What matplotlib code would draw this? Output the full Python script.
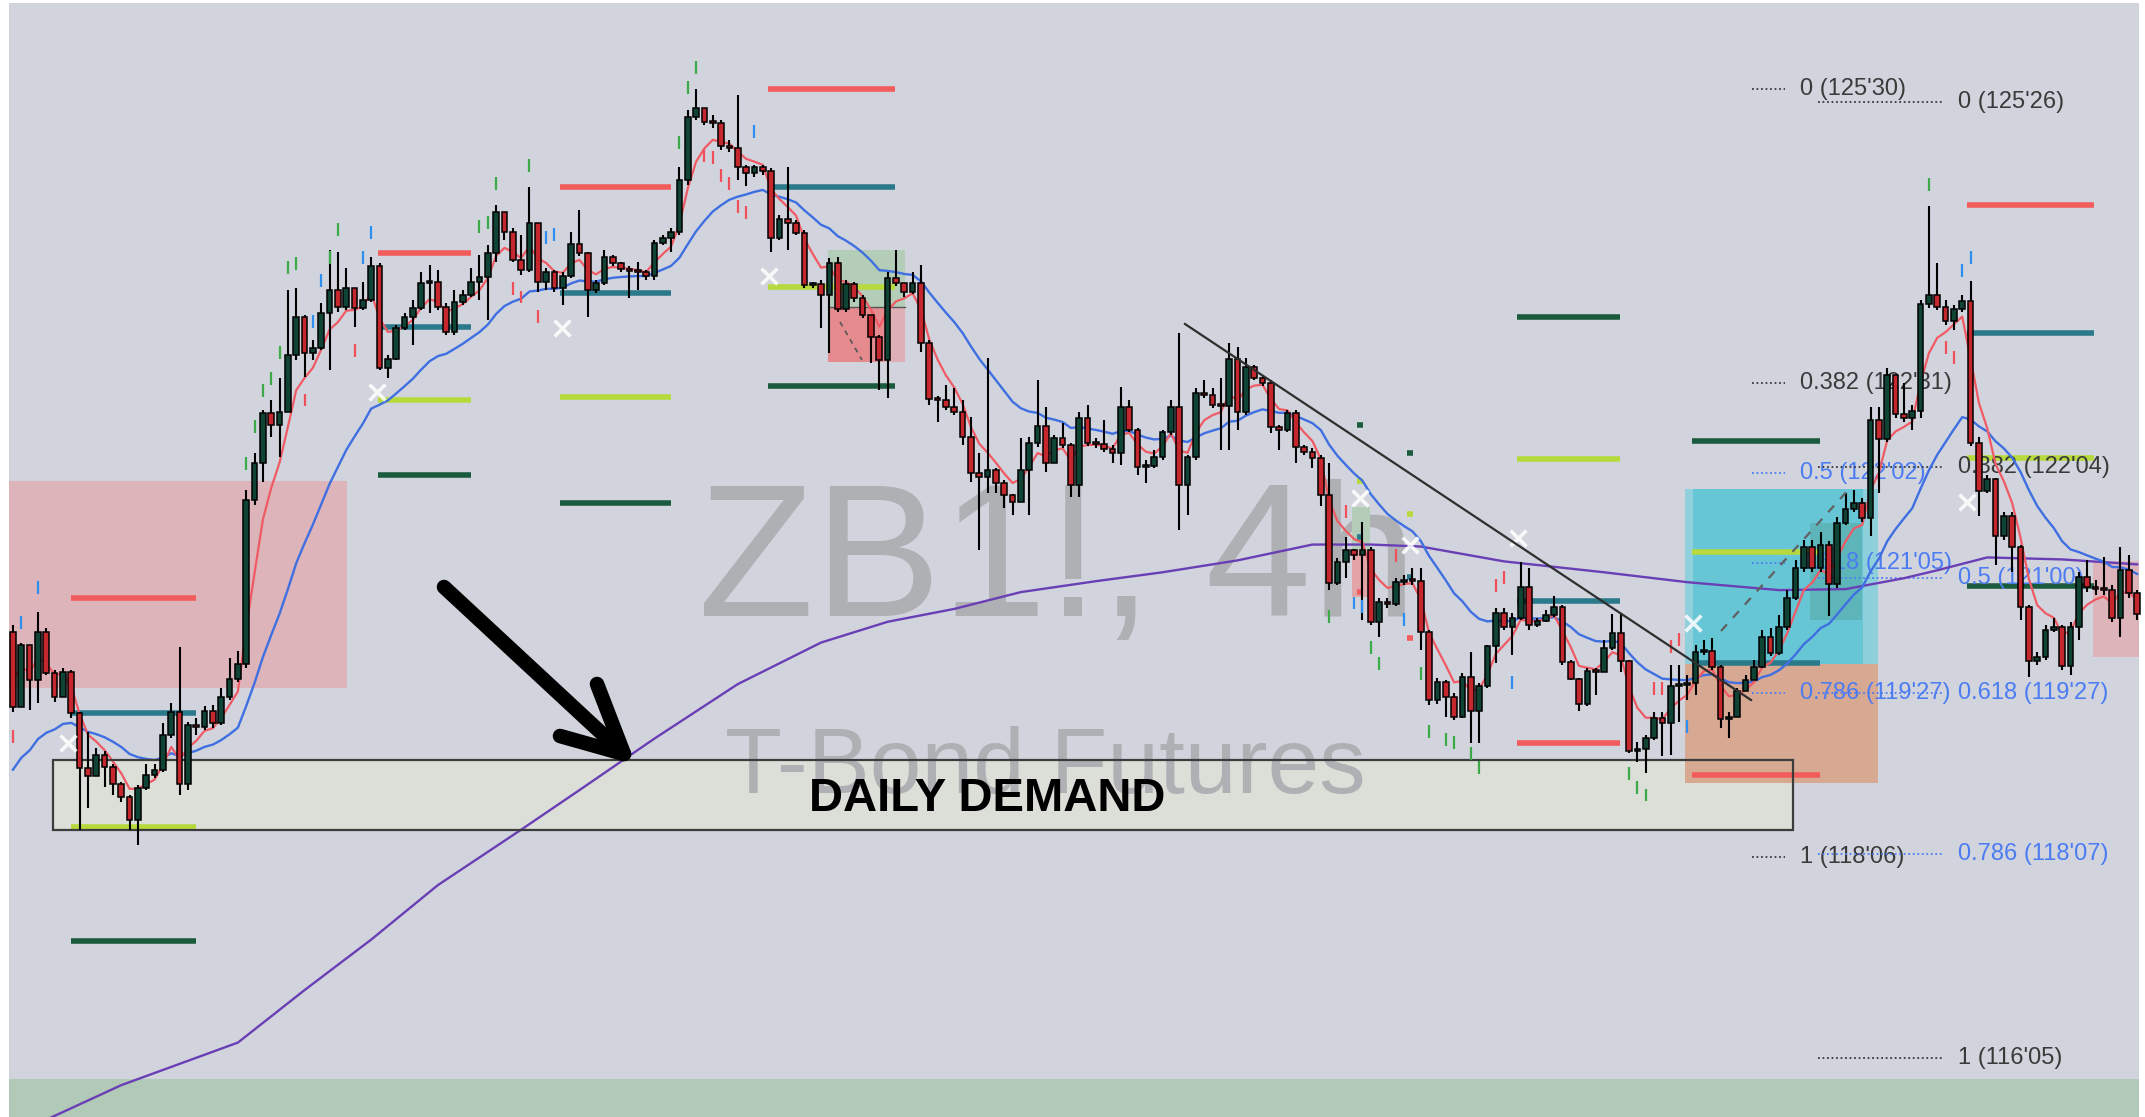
import numpy as np
import matplotlib.pyplot as plt
from matplotlib.patches import Rectangle

# ZB1! 4h candles: open of first bar, then close / high / low per bar
first_open = 120.46
closes = [
    119.70, 120.33, 119.97, 120.46, 120.04, 119.80, 120.05, 119.64, 119.08, 119.00, 119.21, 119.09, 118.92, 118.79, 118.56, 118.88,
    119.01, 119.06, 119.42, 119.65, 118.92, 119.52, 119.50, 119.66, 119.54, 119.80, 119.98, 120.13, 121.79, 122.16, 122.67, 122.55,
    122.68, 123.25, 123.64, 123.27, 123.33, 123.68, 123.91, 123.74, 123.93, 123.73, 123.81, 124.15, 123.12, 123.21, 123.53, 123.64,
    123.73, 123.98, 123.99, 123.74, 123.49, 123.79, 123.86, 123.99, 124.04, 124.28, 124.70, 124.50, 124.21, 124.11, 124.59, 123.99,
    124.09, 123.93, 124.05, 124.38, 124.28, 123.91, 123.98, 124.24, 124.18, 124.12, 124.10, 124.09, 124.05, 124.39, 124.44, 124.50,
    125.02, 125.66, 125.75, 125.61, 125.60, 125.37, 125.35, 125.15, 125.09, 125.15, 125.11, 124.44, 124.63, 124.59, 124.49, 123.96,
    123.97, 123.86, 124.18, 123.72, 123.97, 123.83, 123.66, 123.44, 123.20, 124.03, 123.98, 123.89, 123.98, 123.38, 122.81, 122.80,
    122.73, 122.68, 122.43, 122.06, 122.02, 122.09, 121.96, 121.84, 121.77, 122.09, 122.37, 122.54, 122.16, 122.42, 122.35, 121.94,
    122.62, 122.37, 122.36, 122.31, 122.26, 122.73, 122.50, 122.12, 122.13, 122.22, 122.48, 122.73, 121.94, 122.22, 122.87, 122.85,
    122.75, 122.74, 123.21, 122.68, 123.13, 123.02, 122.97, 122.53, 122.50, 122.67, 122.33, 122.27, 122.21, 121.84, 120.95, 121.16,
    121.28, 121.23, 121.29, 120.56, 120.76, 120.74, 120.96, 120.98, 120.97, 120.46, 119.77, 119.95, 119.80, 119.60, 120.00, 119.66,
    119.91, 120.32, 120.65, 120.51, 120.60, 120.91, 120.53, 120.57, 120.63, 120.71, 120.15, 119.98, 119.73, 120.06, 120.05, 120.30,
    120.45, 120.16, 119.25, 119.28, 119.39, 119.59, 119.54, 119.91, 119.92, 119.94, 120.25, 120.26, 120.10, 119.58, 119.60, 119.86,
    119.97, 120.10, 120.41, 120.24, 120.51, 120.80, 121.10, 121.32, 121.10, 121.34, 120.94, 121.56, 121.70, 121.76, 121.61, 122.60,
    122.41, 123.05, 122.66, 122.62, 122.69, 123.77, 123.86, 123.74, 123.60, 123.72, 123.80, 122.37, 121.88, 122.00, 121.43, 121.63,
    121.32, 120.71, 120.16, 120.20, 120.48, 120.51, 120.11, 120.51, 121.01, 120.91, 120.89, 120.88, 120.60, 121.08, 120.85, 120.64,
]
highs = [
    120.53, 120.35, 120.33, 120.66, 120.50, 120.07, 120.09, 120.07, 119.65, 119.45, 119.29, 119.25, 119.12, 118.94, 118.81, 118.91,
    119.12, 119.12, 119.54, 119.74, 120.31, 119.55, 119.59, 119.71, 119.72, 119.89, 120.19, 120.26, 121.89, 122.26, 122.70, 122.80,
    123.02, 123.91, 123.93, 123.66, 123.41, 123.78, 124.31, 124.29, 124.13, 123.91, 123.99, 124.24, 124.18, 123.25, 123.56, 123.68,
    123.81, 124.09, 124.16, 124.11, 123.78, 123.91, 123.91, 124.13, 124.26, 124.37, 124.77, 124.65, 124.54, 124.47, 124.95, 124.57,
    124.13, 124.11, 124.09, 124.50, 124.72, 124.29, 124.01, 124.31, 124.26, 124.19, 124.15, 124.19, 124.11, 124.42, 124.47, 124.54,
    125.15, 125.73, 125.94, 125.75, 125.68, 125.63, 125.43, 125.88, 125.17, 125.17, 125.17, 125.14, 124.67, 125.15, 124.62, 124.52,
    123.99, 124.01, 124.23, 124.24, 124.01, 123.99, 123.86, 123.66, 123.46, 124.09, 124.31, 123.96, 124.09, 124.16, 123.41, 122.84,
    122.95, 122.92, 122.80, 122.63, 122.26, 123.22, 122.11, 121.99, 121.85, 122.42, 122.43, 123.00, 122.73, 122.45, 122.57, 122.37,
    122.68, 122.75, 122.42, 122.60, 122.35, 122.93, 122.80, 122.52, 122.19, 122.29, 122.50, 122.80, 123.48, 122.24, 122.92, 123.00,
    122.92, 123.02, 123.38, 123.34, 123.22, 123.15, 123.05, 123.00, 122.55, 122.70, 122.70, 122.35, 122.32, 122.24, 122.16, 121.20,
    121.42, 121.30, 121.57, 121.32, 120.80, 120.80, 121.00, 121.03, 121.10, 121.10, 120.48, 119.99, 119.97, 119.84, 120.04, 120.25,
    119.94, 120.33, 120.70, 120.70, 120.65, 121.16, 121.10, 120.60, 120.68, 120.82, 120.73, 120.17, 119.99, 120.09, 120.09, 120.38,
    120.64, 120.65, 120.17, 119.35, 119.42, 119.65, 119.65, 120.12, 120.12, 120.02, 120.33, 120.38, 120.40, 120.12, 119.65, 119.89,
    120.02, 120.17, 120.48, 120.50, 120.63, 120.88, 121.18, 121.39, 121.39, 121.47, 121.38, 121.62, 121.86, 121.89, 121.81, 122.73,
    122.73, 123.12, 123.05, 122.97, 122.75, 123.81, 124.76, 124.18, 123.81, 123.76, 123.86, 124.00, 122.43, 122.04, 122.01, 121.67,
    121.67, 121.34, 120.73, 120.25, 120.53, 120.60, 120.53, 120.56, 121.06, 121.18, 120.98, 121.21, 120.93, 121.32, 121.23, 120.88,
]
lows = [
    119.65, 119.70, 119.67, 119.74, 120.02, 119.75, 119.82, 119.59, 118.46, 118.68, 119.00, 118.89, 118.81, 118.74, 118.46, 118.31,
    118.86, 118.98, 119.04, 119.39, 118.81, 118.86, 119.42, 119.47, 119.49, 119.52, 119.77, 119.95, 120.09, 121.74, 121.97, 122.43,
    122.22, 122.68, 123.20, 123.03, 123.20, 123.30, 123.10, 123.69, 123.71, 123.54, 123.71, 123.79, 123.10, 123.02, 123.20, 123.51,
    123.36, 123.71, 123.68, 123.71, 123.46, 123.46, 123.76, 123.84, 123.81, 123.61, 124.19, 124.42, 124.19, 124.06, 124.09, 123.89,
    123.91, 123.89, 123.76, 124.03, 124.25, 123.64, 123.88, 123.96, 124.15, 124.09, 123.83, 123.91, 124.01, 124.01, 124.37, 124.29,
    124.47, 124.97, 125.63, 125.58, 125.55, 125.32, 125.30, 125.02, 124.96, 125.05, 125.07, 124.29, 124.42, 124.32, 124.47, 123.93,
    123.93, 123.53, 123.27, 123.69, 123.69, 123.79, 123.63, 123.17, 122.90, 122.82, 123.95, 123.84, 123.87, 123.28, 122.75, 122.58,
    122.70, 122.65, 122.35, 121.97, 121.29, 121.86, 121.86, 121.71, 121.64, 121.79, 121.64, 122.33, 122.07, 122.17, 122.32, 121.82,
    121.82, 122.34, 122.32, 122.27, 122.16, 122.14, 122.48, 122.04, 121.96, 122.11, 122.19, 122.45, 121.49, 121.64, 122.19, 122.82,
    122.72, 122.29, 122.29, 122.50, 122.65, 123.00, 122.94, 122.47, 122.29, 122.48, 122.16, 122.24, 122.11, 121.73, 120.88, 120.93,
    121.00, 121.18, 120.58, 120.53, 120.41, 120.70, 120.72, 120.93, 120.93, 120.27, 119.72, 119.73, 119.60, 119.57, 119.59, 119.34,
    119.34, 119.89, 120.14, 120.48, 120.22, 120.58, 120.48, 120.51, 120.56, 120.61, 120.12, 119.97, 119.66, 119.71, 119.82, 120.05,
    120.28, 120.05, 119.23, 119.14, 119.03, 119.37, 119.20, 119.21, 119.55, 119.77, 119.82, 120.22, 120.07, 119.49, 119.39, 119.72,
    119.87, 119.97, 120.09, 120.21, 120.22, 120.48, 120.78, 121.06, 121.06, 121.06, 120.62, 120.90, 121.54, 121.67, 121.57, 121.43,
    121.86, 122.38, 122.62, 122.58, 122.50, 122.62, 123.73, 123.71, 123.56, 123.51, 123.69, 122.34, 121.63, 121.86, 121.13, 121.39,
    121.06, 120.58, 120.00, 120.12, 120.17, 120.46, 120.07, 120.02, 120.38, 120.86, 120.83, 120.83, 120.56, 120.41, 120.80, 120.58,
]

# moving average seeds read at the left edge
ema_fast_seed, ema_slow_seed = 120.12, 119.00

# long moving average (purple), sampled off the chart: bar index, price
ma_long_idx = [0, 5, 13, 27, 35, 43, 51, 61, 68, 77, 87, 97, 105, 113, 121, 130,
               138, 147, 156, 163, 169, 179, 191, 201, 212, 220, 227, 231, 237, 246, 255]
ma_long_val = [115.38, 115.57, 115.88, 116.31, 116.84, 117.35, 117.90, 118.46, 118.86, 119.38, 119.93,
               120.35, 120.56, 120.69, 120.86, 120.97, 121.06, 121.18, 121.34, 121.34, 121.32, 121.17,
               121.06, 120.96, 120.88, 120.89, 121.00, 121.08, 121.21, 121.19, 121.14]

# pivot level groups: bar span and prices
lvl_start = [7, 43.8, 65.7, 90.6, 180.6, 201.6, 234.6]
lvl_end = [22, 55, 79, 105.9, 192.9, 216.9, 249.8]
lvl_red = [120.80, 124.28, 124.95, 125.94, 119.34, 119.01, 124.77]
lvl_teal = [119.64, 123.54, 123.88, 124.95, 120.77, 120.14, 123.48]
lvl_lime = [118.49, 122.80, 122.83, 123.94, 122.20, 121.26, 122.21]
lvl_dkgreen = [117.34, 122.04, 121.76, 122.94, 123.64, 122.39, 120.92]
# tiny level marks
mark_idx = [161.7, 167.7]
mark_red = [120.86, 120.40]
mark_teal = [121.42, 121.01]
mark_lime = [121.98, 121.65]
mark_dkgreen = [122.55, 122.26]

# signal ticks (bar index, price)
sig_green_idx = [28, 29, 30, 31, 32, 33, 34, 38, 39, 56, 57, 58, 62, 80, 81, 82, 158, 163, 164, 169, 170,
                 172, 173, 175, 176, 194, 195, 196, 230]
sig_green_val = [122.16, 122.53, 122.90, 123.02, 123.28, 124.14, 124.18, 124.24, 124.52, 124.55, 124.59,
                 124.99, 125.17, 125.40, 125.96, 126.16, 120.61, 120.30, 120.14, 120.04, 119.45, 119.37,
                 119.34, 119.23, 119.09, 119.03, 118.89, 118.81, 124.98]
sig_red_idx = [0, 35, 41, 60, 61, 63, 83, 84, 85, 86, 87, 88, 160, 166, 178, 179, 197, 198, 199, 200, 232, 233]
sig_red_val = [119.40, 122.80, 123.30, 123.93, 123.84, 123.64, 125.27, 125.25, 125.07, 124.99, 124.75,
               124.69, 121.67, 121.23, 120.93, 121.01, 119.89, 119.89, 120.31, 120.38, 123.33, 123.23]
sig_blue_idx = [1, 3, 36, 37, 42, 43, 64, 65, 89, 161, 162, 167, 180, 201, 234, 235]
sig_blue_val = [120.55, 120.91, 123.59, 124.01, 124.24, 124.49, 124.44, 124.47, 125.51, 120.75, 120.71,
                120.58, 119.95, 119.50, 124.11, 124.24]

# white swing crosses
cross_idx = [6.6, 43.7, 65.9, 90.8, 161.7, 167.7, 180.7, 201.7, 234.6]
cross_val = [119.34, 122.88, 123.53, 124.05, 121.81, 121.34, 121.41, 120.55, 121.77]

# fibonacci retracements
fib1_price = [125.9375, 122.96875, 122.0625, 121.15625, 119.84375, 118.1875]
fib1_text = ["0 (125'30)", "0.382 (122'31)", "0.5 (122'02)", "0.618 (121'05)", "0.786 (119'27)", "1 (118'06)"]
fib2_price = [125.8125, 122.125, 121.0, 119.84375, 118.21875, 116.15625]
fib2_text = ["0 (125'26)", "0.382 (122'04)", "0.5 (121'00)", "0.618 (119'27)", "0.786 (118'07)", "1 (116'05)"]
fib1_blue = [False, False, True, True, True, False]
fib2_blue = [False, False, True, True, True, False]

BG = '#D1D4DD'
UP, DN = '#0F4434', '#C4282E'
RED, TEAL, LIME, DKG = '#F25C5C', '#2B7A8C', '#B6DA3C', '#1B5B3D'
FIBBLUE, FIBGREY = '#4C7CF2', '#3A3A3A'

# screen mapping (pixels of the 2145x1117 picture -> bar / price)
X0, DX = 13, 8.33
P0, DP = 126.84, 0.0101


def bx(x):
    return (x - X0) / DX


def by(y):
    return P0 - DP * y


def rect(x0, y0, x1, y1, **kw):
    ax.add_patch(Rectangle((bx(x0), by(y1)), bx(x1) - bx(x0), by(y0) - by(y1), **kw))


def ema(vals, span, seed):
    a = 2.0 / (span + 1)
    out, e = [], seed
    for v in vals:
        e = e + a * (v - e)
        out.append(e)
    return out


fig = plt.figure(figsize=(21.45, 11.17), dpi=100, facecolor='white')
ax = fig.add_axes([0, 0, 1, 1])
ax.set_xlim(bx(0), bx(2145))
ax.set_ylim(by(1117), by(0))
ax.axis('off')

# panel and zones
rect(9, 3, 2139, 1117, facecolor=BG, edgecolor='none', zorder=0)
rect(9, 1079, 2139, 1117, facecolor='#B1C9B7', edgecolor='none', zorder=0.5)
rect(9, 481, 347, 688, facecolor='#DCB4BA', edgecolor='none', zorder=1)
rect(2093, 561, 2139, 657, facecolor='#DCB4BA', edgecolor='none', zorder=1)
rect(53, 760, 1793, 830, facecolor='#DCDED8', edgecolor='none', zorder=1)

# position tools
rect(828, 250, 905, 307, facecolor='#B4CDB9', edgecolor='none', zorder=1.4)
rect(828, 307, 884, 362, facecolor='#E58B90', edgecolor='none', zorder=1.4)
rect(884, 307, 905, 362, facecolor='#DEAFB4', edgecolor='none', zorder=1.4)
ax.plot([bx(828), bx(905)], [by(307), by(307)], color='#555555', lw=1, zorder=1.5)
ax.plot([bx(840), bx(862)], [by(322), by(360)], color='#555555', lw=1.2, ls=(0, (3, 3)), zorder=1.5)
rect(1352, 507, 1370, 550, facecolor='#B4CDB9', edgecolor='none', zorder=1.4)
rect(1352, 550, 1370, 597, facecolor='#E3A4A8', edgecolor='none', zorder=1.4)

rect(1685, 489, 1878, 664, facecolor='#67C6D6', edgecolor='none', zorder=1.4)
rect(1685, 489, 1693, 664, facecolor='#8FD0DC', edgecolor='none', zorder=1.41)
rect(1863, 489, 1878, 664, facecolor='#8DCFDA', edgecolor='none', zorder=1.41)
rect(1810, 523, 1862, 620, facecolor='#5DB5BA', edgecolor='none', zorder=1.42)
rect(1685, 664, 1878, 783, facecolor='#D8A48A', edgecolor='none', alpha=0.9, zorder=1.4)

# watermark
ax.text(bx(698), by(616), 'ZB1!, 4h', fontsize=137, color='#AFB0B4', family='Liberation Sans',
        ha='left', va='baseline', zorder=1.3)
ax.text(bx(725), by(793), 'T-Bond Futures', fontsize=67, color='#AFB0B4', family='Liberation Sans',
        ha='left', va='baseline', zorder=1.3)

# pivot levels
for s, e, r, t, li, d in zip(lvl_start, lvl_end, lvl_red, lvl_teal, lvl_lime, lvl_dkgreen):
    for p, col in ((r, RED), (t, TEAL), (li, LIME), (d, DKG)):
        ax.plot([s, e], [p, p], color=col, lw=4, solid_capstyle='butt', zorder=2)
for m, r, t, li, d in zip(mark_idx, mark_red, mark_teal, mark_lime, mark_dkgreen):
    for p, col in ((r, RED), (t, TEAL), (li, LIME), (d, DKG)):
        ax.plot([m - 0.4, m + 0.4], [p, p], color=col, lw=4, solid_capstyle='butt', zorder=2)

# fib labels
for prices, texts, blues, lx0, lx1, tx in ((fib1_price, fib1_text, fib1_blue, 1752, 1785, 1800),
                                           (fib2_price, fib2_text, fib2_blue, 1818, 1942, 1958)):
    for p, t, b in zip(prices, texts, blues):
        col = FIBBLUE if b else FIBGREY
        ax.plot([bx(lx0), bx(lx1)], [p, p], color=col, lw=1.3, ls=(0, (1, 1.5)), zorder=2.5)
        ax.text(bx(tx), p, t, color=col, fontsize=17, family='Liberation Sans',
                ha='left', va='center', zorder=2.5)

# moving averages
n = min(len(closes), len(highs), len(lows))
c = np.array(closes[:n])
o = np.array([first_open] + closes[:n - 1])
h = np.maximum(np.array(highs[:n]), np.maximum(o, c))
lo = np.minimum(np.array(lows[:n]), np.minimum(o, c))
idx = np.arange(n)
ax.plot(ma_long_idx, ma_long_val, color='#6A3FB5', lw=1.7, zorder=3)
ax.plot(idx, ema(c, 20, ema_slow_seed), color='#3F6FE0', lw=1.7, zorder=3)
ax.plot(idx, ema(c, 5, ema_fast_seed), color='#F05A64', lw=1.6, zorder=3)

# demand box outline
rect(53, 760, 1793, 830, facecolor='none', edgecolor='#3C3C3C', lw=1.6, zorder=3.5)

# candles
up = c >= o
ax.vlines(idx, lo, h, color='black', lw=1.5, zorder=4)
ax.bar(idx, np.maximum(np.abs(c - o), 0.02), bottom=np.minimum(o, c), width=0.68,
       color=[UP if u else DN for u in up], edgecolor='black', linewidth=1.1, zorder=4.1)

# signals
for xs, ys, col in ((sig_green_idx, sig_green_val, '#3DAA4A'), (sig_red_idx, sig_red_val, '#F0505A'),
                    (sig_blue_idx, sig_blue_val, '#2F8FF0')):
    ys = np.array(ys)
    ax.vlines(xs, ys - 0.065, ys + 0.065, color=col, lw=1.6, zorder=4.5)
ax.scatter(cross_idx, cross_val, marker='x', s=130, color='white', linewidths=2.6, alpha=0.85, zorder=5)

# trend line and projection
ax.plot([bx(1185), bx(1751)], [by(324), by(700)], color='#2E2E2E', lw=1.6, zorder=5)
ax.plot([bx(1721), bx(1850)], [by(631), by(488)], color='#606060', lw=1.6, ls=(0, (4, 4)), zorder=5)

# arrow and label
ax.plot([bx(444), bx(624)], [by(587), by(754)], color='black', lw=10.5, solid_capstyle='round', zorder=6)
ax.plot([bx(597), bx(624), bx(560)], [by(684), by(754), by(736)], color='black', lw=10.5,
        solid_capstyle='round', solid_joinstyle='round', zorder=6)
ax.text(bx(987), by(799), 'DAILY DEMAND', fontsize=34, fontweight='bold', family='Liberation Sans',
        color='black', ha='center', va='center', zorder=6)

fig.savefig('out.png', dpi=100, facecolor='white')
